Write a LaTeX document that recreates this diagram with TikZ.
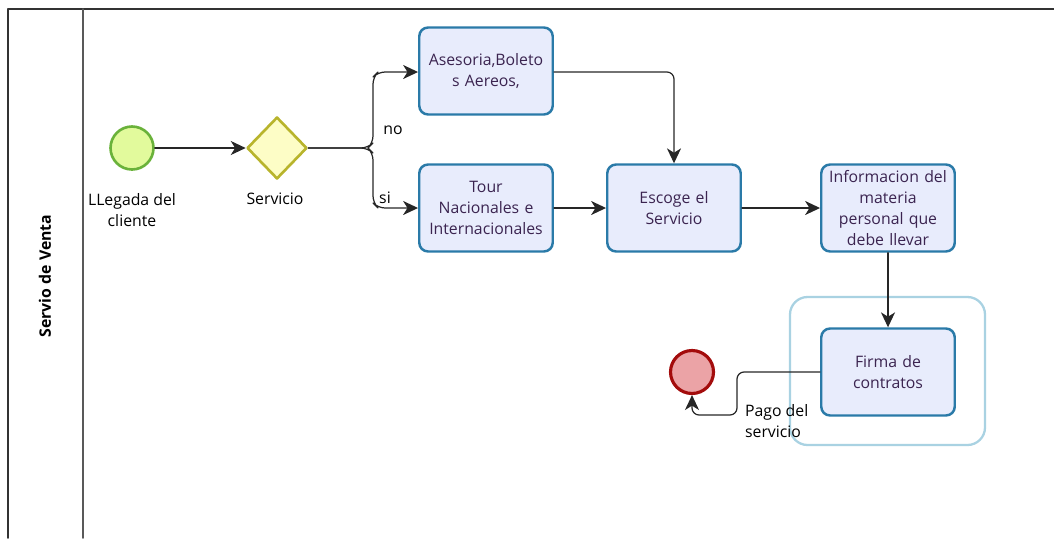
\documentclass[tikz,border=0pt]{standalone}
\usepackage{fontspec}
\setmainfont{Open Sans}
\usetikzlibrary{arrows.meta,shapes.geometric}
\definecolor{taskline}{HTML}{2A7AA8}
\definecolor{taskfill}{HTML}{E8ECFC}
\definecolor{startline}{HTML}{6AB23A}
\definecolor{startfill}{HTML}{E2FA9C}
\definecolor{gateline}{HTML}{B8B42C}
\definecolor{gatefill}{HTML}{FDFDC6}
\definecolor{endline}{HTML}{A30C0C}
\definecolor{endfill}{HTML}{EBA3A6}
\definecolor{groupline}{HTML}{A9D2E2}
\definecolor{txt}{HTML}{3B2450}
\tikzset{
	tarea/.style={draw=taskline, fill=taskfill, line width=1.4pt, rounded corners=5pt,
		minimum width=2.62cm, minimum height=1.74cm, align=center, text width=2.6cm,
		text=txt, inner sep=1pt},
	flujo/.style={->, line width=0.7pt, black!85},
	etiq/.style={align=center, inner sep=1pt}
}
\begin{document}
\begin{tikzpicture}[x=0.02cm, y=-0.02cm, line join=round, line cap=round,
	>={Stealth[length=8.5pt,width=8pt,inset=2.5pt]}, font=\fontsize{9}{12}\selectfont]
	\useasboundingbox (0,0) rectangle (1054,538);
	%% Khung (pool y lane)
	\draw[line width=1pt, black!80] (1054,9) -- (8,9) -- (8,538);
	\draw[line width=1pt, black!65] (83,9) -- (83,538);
	\node[rotate=90, font=\fontsize{9}{12}\selectfont\bfseries] (lane) at (45,276) {Servio de Venta};
	%% Grupo
	\draw[groupline, line width=1.3pt, rounded corners=10pt] (790,297) rectangle (985,445);
	%% Eventos y compuerta
	\node[circle, draw=startline, fill=startfill, line width=1.5pt, minimum size=0.86cm, inner sep=0pt] (ini) at (132,148) {};
	\node[diamond, draw=gateline, fill=gatefill, line width=1.5pt, minimum width=1.2cm, minimum height=1.24cm, inner sep=0pt] (serv) at (277,148) {};
	\node[circle, draw=endline, fill=endfill, line width=1.8pt, minimum size=0.86cm, inner sep=0pt] (fin) at (692,372) {};
	%% Tareas
	\path
	(486,71) node[tarea] (ases) {Asesoria,Boleto\\s Aereos,}
	(486,208) node[tarea] (tour) {Tour\\Nacionales e\\Internacionales}
	(674,208) node[tarea] (esco) {Escoge el\\Servicio}
	(888,208) node[tarea] (info) {Informacion del\\materia\\personal que\\debe llevar}
	(888,372) node[tarea] (firm) {Firma de\\contratos}
	;
	%% Etiquetas
	\node[etiq] (lini) at (132,210) {LLegada del\\cliente};
	\node[etiq] (lserv) at (275,199) {Servicio};
	\node[etiq] (lno) at (393,130) {no};
	\node[etiq] (lsi) at (385,198) {si};
	\node[etiq, align=left, anchor=north west] (lpago) at (743,402) {Pago del\\servicio};
	%% Flujos
	\draw[flujo] (ini) -- (serv);
	\draw[flujo, rounded corners=4pt] (serv.east) -- (368,148) -- (373,143) -- (373,77) -- (378,72) -- (ases.west |- 0,72);
	\draw[flujo, rounded corners=4pt] (serv.east) -- (368,148) -- (373,153) -- (373,203) -- (378,208) -- (tour.west);
	\draw[flujo, rounded corners=4pt] (ases.east |- 0,72) -| (esco.north);
	\draw[flujo] (tour) -- (esco);
	\draw[flujo] (esco) -- (info);
	\draw[flujo] (info) -- (firm);
	\draw[flujo, rounded corners=4pt] (firm.west) -| (737,415) -| (fin.south);
\end{tikzpicture}
\end{document}
